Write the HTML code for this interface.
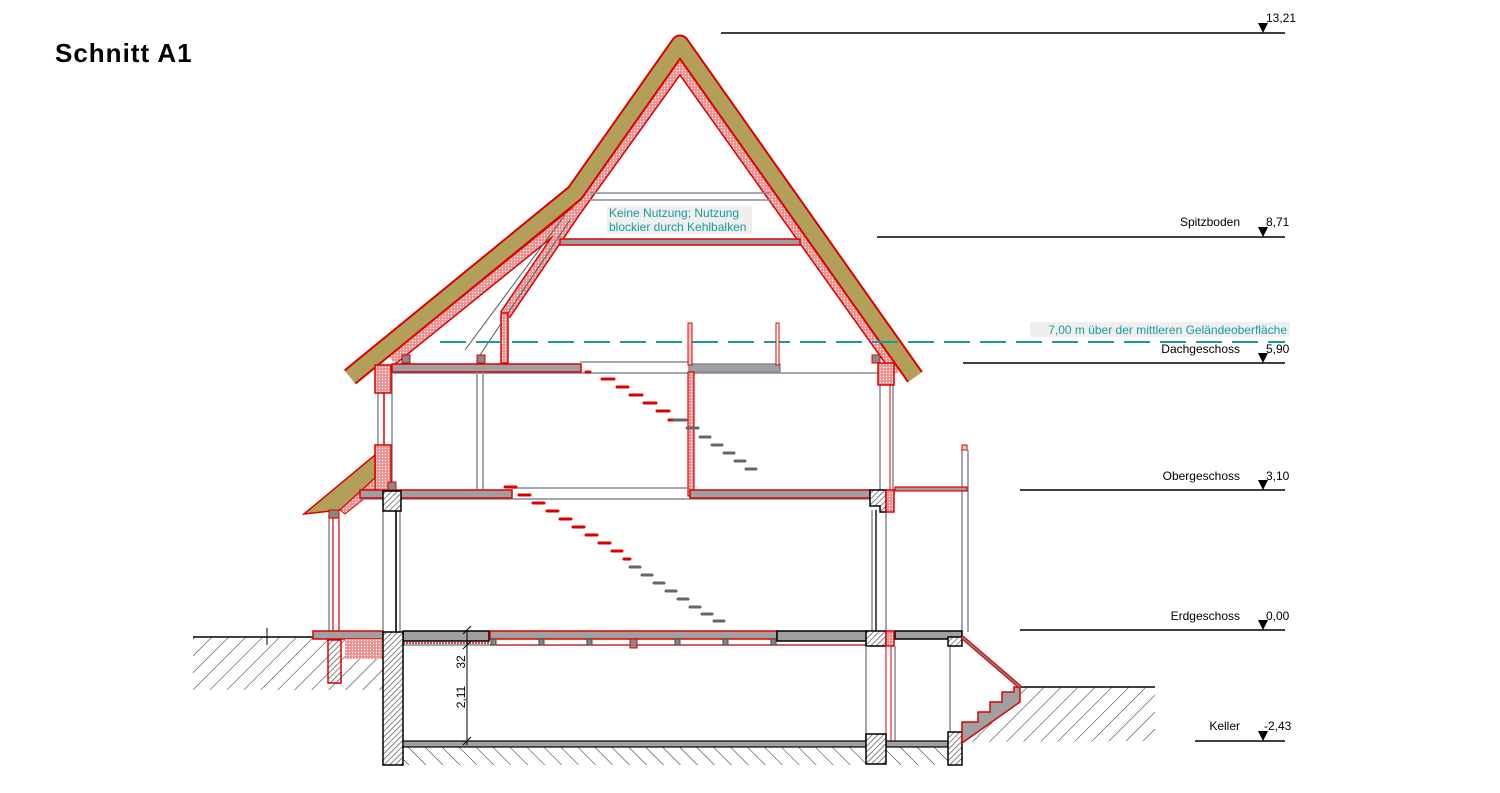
<!DOCTYPE html>
<html><head><meta charset="utf-8"><style>
html,body{margin:0;padding:0;background:#fff}
svg{display:block}
text{font-family:"Liberation Sans",sans-serif}
</style></head><body>
<svg width="1500" height="793" viewBox="0 0 1500 793" xmlns="http://www.w3.org/2000/svg">
<defs>
<pattern id="gnd" patternUnits="userSpaceOnUse" width="12" height="12" patternTransform="rotate(45)">
<line x1="0" y1="0" x2="0" y2="12" stroke="#222" stroke-width="1"/></pattern>
<pattern id="gnd2" patternUnits="userSpaceOnUse" width="12" height="12" patternTransform="rotate(-45)">
<line x1="0" y1="0" x2="0" y2="12" stroke="#222" stroke-width="1"/></pattern>
<pattern id="wall" patternUnits="userSpaceOnUse" width="4" height="4" patternTransform="rotate(45)">
<rect width="4" height="4" fill="#fff"/><line x1="0" y1="0" x2="0" y2="4" stroke="#444" stroke-width="1.3"/></pattern>
<pattern id="ins" patternUnits="userSpaceOnUse" width="3" height="3">
<rect width="3" height="3" fill="#ec8f8f"/><circle cx="1.5" cy="1.5" r="0.7" fill="#fff"/></pattern>
</defs>

<text x="55" y="62" font-size="26" font-weight="bold" fill="#000" letter-spacing="1">Schnitt A1</text>

<!-- ground hatch -->
<rect x="193" y="637" width="190" height="53" fill="url(#gnd)"/>
<line x1="193" y1="637" x2="315" y2="637" stroke="#000" stroke-width="1.5"/>
<line x1="267" y1="628" x2="267" y2="645" stroke="#000"/>
<rect x="403" y="747" width="560" height="18" fill="url(#gnd2)"/>
<polygon points="962,742 1020,687 1155,687 1155,741" fill="url(#gnd)"/>
<line x1="1020" y1="687" x2="1155" y2="687" stroke="#000" stroke-width="1.5"/>

<!-- level lines -->
<g stroke="#000" stroke-width="1.5">
<line x1="721" y1="33" x2="1285" y2="33"/>
<line x1="877" y1="237" x2="1285" y2="237"/>
<line x1="963" y1="363" x2="1285" y2="363"/>
<line x1="1020" y1="490" x2="1285" y2="490"/>
<line x1="1020" y1="630" x2="1285" y2="630"/>
<line x1="1195" y1="741" x2="1285" y2="741"/>
</g>
<g fill="#000">
<polygon points="1258,23 1268,23 1263,33"/>
<polygon points="1258,227 1268,227 1263,237"/>
<polygon points="1258,353 1268,353 1263,363"/>
<polygon points="1258,480 1268,480 1263,490"/>
<polygon points="1258,620 1268,620 1263,630"/>
<polygon points="1258,731 1268,731 1263,741"/>
</g>
<g font-size="12" fill="#000">
<text x="1266" y="22">13,21</text>
<text x="1240" y="226" text-anchor="end">Spitzboden</text><text x="1266" y="226">8,71</text>
<text x="1240" y="353" text-anchor="end">Dachgeschoss</text><text x="1266" y="353">5,90</text>
<text x="1240" y="480" text-anchor="end">Obergeschoss</text><text x="1266" y="480">3,10</text>
<text x="1240" y="620" text-anchor="end">Erdgeschoss</text><text x="1266" y="620">0,00</text>
<text x="1240" y="730" text-anchor="end">Keller</text><text x="1264" y="730">-2,43</text>
</g>

<!-- roof -->
<path d="M575,212 L680,66 L898,372" fill="none" stroke="#d00" stroke-width="12"/>
<path d="M575,212 L680,66 L898,372" fill="none" stroke="url(#ins)" stroke-width="9"/>
<path d="M392,360 L575,212 L505,315" fill="none" stroke="#d00" stroke-width="12"/>
<path d="M392,360 L575,212 L505,315" fill="none" stroke="url(#ins)" stroke-width="9"/>
<path d="M350,377 L575,193 L680,44 L915,377" fill="none" stroke="#d00" stroke-width="19" stroke-linejoin="round"/>
<path d="M350,377 L575,193 L680,44 L915,377" fill="none" stroke="#b29f5a" stroke-width="15" stroke-linejoin="round"/>
<line x1="565" y1="215" x2="465" y2="350" stroke="#555"/>
<line x1="570" y1="220" x2="480" y2="355" stroke="#555"/>
<rect x="501" y="313" width="7" height="50" fill="url(#ins)" stroke="#d00" stroke-width="1.5"/>

<!-- Kehlbalken -->
<line x1="590" y1="193" x2="770" y2="193" stroke="#889" stroke-width="1.5"/>
<line x1="590" y1="200" x2="770" y2="200" stroke="#889" stroke-width="1.5"/>
<rect x="560" y="239" width="240" height="6" fill="#a0a0a0" stroke="#d00" stroke-width="1.5"/>
<rect x="607" y="206" width="145" height="28" fill="#efefef"/>
<text x="609" y="217" font-size="12" fill="#1a9a9a">Keine Nutzung; Nutzung</text>
<text x="609" y="231" font-size="12" fill="#1a9a9a">blockier durch Kehlbalken</text>

<!-- 7m line -->
<rect x="1030" y="322" width="260" height="15" fill="#efefef"/>
<text x="1287" y="334" font-size="12" fill="#1a9a9a" text-anchor="end">7,00 m über der mittleren Geländeoberfläche</text>
<line x1="440" y1="342" x2="1285" y2="342" stroke="#1a9a9a" stroke-width="2" stroke-dasharray="26,10"/>

<!-- DG floor -->
<line x1="580" y1="362" x2="690" y2="362" stroke="#889" stroke-width="1.5"/>
<line x1="390" y1="373" x2="885" y2="373" stroke="#889" stroke-width="1.5"/>
<rect x="392" y="364" width="189" height="8" fill="#a0a0a0" stroke="#d00" stroke-width="1.5"/>
<rect x="689" y="364" width="91" height="8" fill="#a0a0a0" stroke="#889" stroke-width="1.5"/>
<rect x="402" y="355" width="8" height="8" fill="#888" stroke="#d00"/>
<rect x="477" y="355" width="8" height="8" fill="#888" stroke="#d00"/>
<rect x="872" y="355" width="8" height="8" fill="#888" stroke="#d00"/>
<rect x="688" y="323" width="4" height="42" fill="#f6c3c3" stroke="#d00"/>
<rect x="776" y="323" width="3" height="42" fill="#fff" stroke="#d00"/>
<rect x="688" y="372" width="6" height="124" fill="url(#ins)" stroke="#d00" stroke-width="1.2"/>

<!-- walls upper -->
<g stroke="#889" stroke-width="1.5" fill="none">
<line x1="378" y1="390" x2="378" y2="445"/><line x1="392" y1="372" x2="392" y2="490"/>
<line x1="477" y1="372" x2="477" y2="490"/><line x1="483" y1="372" x2="483" y2="490"/>
<line x1="880" y1="385" x2="880" y2="490"/><line x1="893" y1="385" x2="893" y2="490"/>
<line x1="383" y1="510" x2="383" y2="632"/><line x1="400" y1="510" x2="400" y2="632"/>
<line x1="872" y1="510" x2="872" y2="632"/><line x1="886" y1="510" x2="886" y2="632"/>
<line x1="962" y1="450" x2="962" y2="632"/><line x1="968" y1="450" x2="968" y2="632"/>
<line x1="329" y1="515" x2="329" y2="632"/>
</g>
<line x1="384" y1="390" x2="384" y2="445" stroke="#d00" stroke-width="1.5"/>
<line x1="396" y1="510" x2="396" y2="632" stroke="#333" stroke-width="2"/>
<line x1="876" y1="510" x2="876" y2="632" stroke="#555" stroke-width="2"/>
<line x1="890" y1="385" x2="890" y2="490" stroke="#d00" stroke-width="1"/>
<rect x="375" y="365" width="16" height="28" fill="url(#ins)" stroke="#d00" stroke-width="1.5"/>
<rect x="375" y="445" width="16" height="46" fill="url(#ins)" stroke="#d00" stroke-width="1.5"/>
<rect x="878" y="363" width="16" height="22" fill="url(#ins)" stroke="#d00" stroke-width="1.5"/>
<rect x="962" y="445" width="5" height="5" fill="#f6c3c3" stroke="#d00"/>

<!-- annex roof -->
<polygon points="304,514 375,455 375,478 340,510" fill="#b29f5a" stroke="#d00" stroke-width="1.5"/>
<polygon points="340,510 375,478 375,490 345,514" fill="url(#ins)" stroke="#d00"/>
<rect x="329" y="510" width="10" height="8" fill="#888" stroke="#d00"/>
<rect x="333" y="518" width="6" height="165" fill="#fff" stroke="#d00" stroke-width="1.2"/>

<!-- OG floor -->
<line x1="512" y1="488" x2="690" y2="488" stroke="#889" stroke-width="1.5"/>
<line x1="360" y1="499" x2="870" y2="499" stroke="#889" stroke-width="1.5"/>
<rect x="360" y="490" width="152" height="8" fill="#a0a0a0" stroke="#d00" stroke-width="1.5"/>
<rect x="690" y="490" width="180" height="8" fill="#a0a0a0" stroke="#d00" stroke-width="1.5"/>
<rect x="895" y="487" width="72" height="4" fill="#a0a0a0" stroke="#d00" stroke-width="1.2"/>
<rect x="388" y="482" width="8" height="8" fill="#888" stroke="#d00"/>
<rect x="383" y="491" width="18" height="20" fill="url(#wall)" stroke="#000" stroke-width="1.5"/>
<polygon points="870,490 886,490 886,512 880,512 880,506 870,506" fill="url(#wall)" stroke="#000" stroke-width="1.5"/>
<rect x="886" y="490" width="8" height="22" fill="url(#ins)" stroke="#d00" stroke-width="1.5"/>

<!-- stairs -->
<g stroke="#d00" stroke-width="3" stroke-linecap="round">
<line x1="586" y1="372" x2="590" y2="372"/><line x1="602" y1="379" x2="614" y2="379"/>
<line x1="617" y1="387" x2="628" y2="387"/><line x1="630" y1="395" x2="642" y2="395"/>
<line x1="644" y1="403" x2="656" y2="403"/><line x1="657" y1="411" x2="669" y2="411"/>
<line x1="669" y1="420" x2="673" y2="420"/>
<line x1="505" y1="487" x2="516" y2="487"/><line x1="519" y1="495" x2="530" y2="495"/>
<line x1="533" y1="503" x2="544" y2="503"/><line x1="547" y1="511" x2="558" y2="511"/>
<line x1="560" y1="519" x2="571" y2="519"/><line x1="573" y1="527" x2="584" y2="527"/>
<line x1="586" y1="535" x2="597" y2="535"/><line x1="599" y1="543" x2="610" y2="543"/>
<line x1="612" y1="551" x2="622" y2="551"/><line x1="624" y1="559" x2="630" y2="559"/>
</g>
<g stroke="#666" stroke-width="3" stroke-linecap="round">
<line x1="674" y1="420" x2="686" y2="420"/><line x1="687" y1="428" x2="698" y2="428"/>
<line x1="700" y1="437" x2="710" y2="437"/><line x1="712" y1="445" x2="722" y2="445"/>
<line x1="724" y1="453" x2="734" y2="453"/><line x1="735" y1="461" x2="745" y2="461"/>
<line x1="746" y1="469" x2="756" y2="469"/><line x1="630" y1="567" x2="640" y2="567"/>
<line x1="642" y1="575" x2="652" y2="575"/><line x1="654" y1="583" x2="664" y2="583"/>
<line x1="666" y1="591" x2="676" y2="591"/><line x1="678" y1="599" x2="688" y2="599"/>
<line x1="690" y1="607" x2="700" y2="607"/><line x1="702" y1="614" x2="712" y2="614"/>
<line x1="714" y1="621" x2="724" y2="621"/>
</g>

<!-- EG floor -->
<rect x="313" y="631" width="70" height="8" fill="#a0a0a0" stroke="#d00" stroke-width="1.5"/>
<rect x="345" y="639" width="38" height="20" fill="url(#ins)"/>
<rect x="403" y="631" width="86" height="10" fill="#a0a0a0" stroke="#000" stroke-width="1.5"/>
<rect x="490" y="631" width="287" height="8" fill="#a0a0a0" stroke="#d00" stroke-width="1.5"/>
<rect x="777" y="631" width="90" height="10" fill="#a0a0a0" stroke="#000" stroke-width="1.5"/>
<rect x="895" y="631" width="67" height="8" fill="#a0a0a0" stroke="#000" stroke-width="1.5"/>
<line x1="403" y1="645" x2="866" y2="645" stroke="#888" stroke-width="1.5"/>
<line x1="403" y1="643" x2="490" y2="643" stroke="#d00" stroke-width="1.5" stroke-dasharray="2,1"/>
<line x1="490" y1="645" x2="866" y2="645" stroke="#d00" stroke-width="1"/>
<g fill="#888" stroke="#444">
<rect x="491" y="639" width="5" height="6"/><rect x="539" y="639" width="5" height="6"/>
<rect x="587" y="639" width="5" height="6"/><rect x="675" y="639" width="5" height="6"/>
<rect x="723" y="639" width="5" height="6"/><rect x="771" y="639" width="5" height="6"/>
</g>
<rect x="630" y="639" width="7" height="9" fill="#888" stroke="#d00"/>
<rect x="866" y="631" width="20" height="15" fill="url(#wall)" stroke="#000" stroke-width="1.5"/>
<rect x="886" y="631" width="8" height="15" fill="url(#ins)" stroke="#d00" stroke-width="1.5"/>
<rect x="886" y="646" width="5" height="96" fill="#fff" stroke="#d00" stroke-width="1"/>
<line x1="866" y1="646" x2="866" y2="742" stroke="#889" stroke-width="1.5"/>
<line x1="895" y1="646" x2="895" y2="742" stroke="#889" stroke-width="1.5"/>
<line x1="950" y1="646" x2="950" y2="732" stroke="#889" stroke-width="1.5"/>
<rect x="948" y="637" width="14" height="9" fill="url(#wall)" stroke="#000" stroke-width="1.5"/>

<!-- basement -->
<rect x="383" y="632" width="20" height="133" fill="url(#wall)" stroke="#000" stroke-width="1.5"/>
<rect x="328" y="640" width="13" height="43" fill="url(#wall)" stroke="#d00" stroke-width="1.5"/>
<rect x="403" y="741" width="545" height="6" fill="#a0a0a0" stroke="#000" stroke-width="1.2"/>
<rect x="866" y="734" width="20" height="30" fill="url(#wall)" stroke="#000" stroke-width="1.5"/>
<rect x="948" y="732" width="14" height="33" fill="url(#wall)" stroke="#000" stroke-width="1.5"/>
<!-- outside stair -->
<polygon points="962,722 978,722 978,712 990,712 990,702 1002,702 1002,692 1014,692 1014,687 1020,687 1020,702 962,743" fill="#a0a0a0" stroke="#d00" stroke-width="1.5"/>
<line x1="962" y1="637" x2="1020" y2="687" stroke="#d00" stroke-width="4"/>
<line x1="962" y1="637" x2="1020" y2="687" stroke="#888" stroke-width="1.5"/>

<!-- dimension -->
<line x1="467" y1="630" x2="467" y2="745" stroke="#000"/>
<g stroke="#000"><line x1="463" y1="634" x2="471" y2="626"/><line x1="463" y1="649" x2="471" y2="641"/><line x1="463" y1="745" x2="471" y2="737"/></g>
<text transform="translate(465,662) rotate(-90)" font-size="12" text-anchor="middle">32</text>
<text transform="translate(465,697) rotate(-90)" font-size="12" text-anchor="middle">2,11</text>
</svg>
</body></html>
